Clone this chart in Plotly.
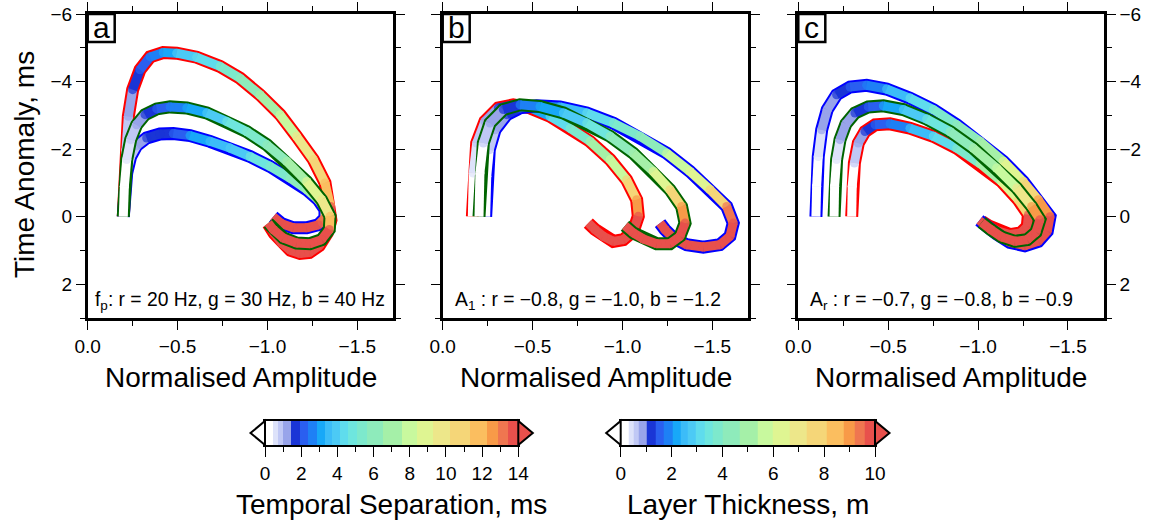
import plotly.graph_objects as go

# ---------------- data ----------------
# Panel a : peak frequency
a_red_amp = [-0.198, -0.204, -0.213, -0.226, -0.250, -0.291, -0.347, -0.420, -0.495, -0.606, -0.736, -0.847, -0.958,
             -1.070, -1.162, -1.255, -1.320, -1.351, -1.353, -1.333, -1.288, -1.233, -1.181, -1.129, -1.079, -1.038, -1.004]
a_red_time = [0.00, -1.00, -1.98, -2.97, -3.76, -4.35, -4.73, -4.86, -4.84, -4.72, -4.45, -4.10, -3.61,
              -3.02, -2.38, -1.69, -1.00, -0.30, 0.10, 0.48, 0.86, 1.06, 1.09, 1.00, 0.78, 0.50, 0.21]
a_red_thk = [0.0, 0.15, 0.45, 0.75, 1.05, 1.3, 1.6, 2.0, 2.4, 2.9, 3.4, 3.9, 4.6,
             5.4, 6.3, 7.2, 8.2, 9.2, 10.2, 10.6, 11.0, 11.4, 11.8, 12.2, 12.6, 13.0, 13.4]

a_grn_amp = [-0.198, -0.204, -0.217, -0.239, -0.272, -0.319, -0.384, -0.458, -0.551, -0.662, -0.773, -0.884,
             -0.996, -1.107, -1.218, -1.301, -1.348, -1.344, -1.301, -1.236, -1.162, -1.088, -1.032, -1.004]
a_grn_time = [0.00, -0.90, -1.69, -2.28, -2.72, -3.02, -3.19, -3.25, -3.22, -3.07, -2.82, -2.52,
              -2.13, -1.64, -1.04, -0.50, -0.01, 0.38, 0.68, 0.80, 0.78, 0.63, 0.38, 0.19]
a_grn_thk = [0.0, 0.1, 0.3, 0.5, 0.75, 1.0, 1.3, 1.6, 2.1, 2.6, 3.1, 3.6,
             4.1, 4.8, 5.6, 6.6, 7.8, 9.2, 10.2, 10.6, 11.0, 11.4, 11.8, 12.2]

a_blu_amp = [-0.198, -0.204, -0.217, -0.239, -0.272, -0.328, -0.402, -0.476, -0.569, -0.680, -0.791, -0.903,
             -1.014, -1.125, -1.218, -1.283, -1.320, -1.320, -1.283, -1.218, -1.144, -1.079, -1.032]
a_blu_time = [0.00, -0.70, -1.29, -1.78, -2.10, -2.33, -2.45, -2.46, -2.40, -2.23, -2.03, -1.78,
              -1.49, -1.14, -0.80, -0.50, -0.21, 0.04, 0.24, 0.33, 0.33, 0.21, 0.00]
a_blu_thk = [0.0, 0.1, 0.3, 0.5, 0.75, 0.95, 1.2, 1.5, 1.9, 2.3, 2.7, 3.1,
             3.5, 4.0, 4.6, 5.5, 7.0, 8.5, 10.2, 10.6, 11.0, 11.4, 11.8]

# Panel b : A1
b_red_amp = [-0.165, -0.170, -0.189, -0.235, -0.309, -0.393, -0.486, -0.597, -0.708, -0.819, -0.931, -1.023,
             -1.079, -1.088, -1.060, -1.005, -0.949, -0.893, -0.847, -0.810]
b_red_time = [0.00, -1.29, -2.18, -2.82, -3.22, -3.31, -3.22, -2.97, -2.62, -2.23, -1.69, -1.09,
              -0.50, -0.01, 0.43, 0.68, 0.73, 0.58, 0.38, 0.19]
b_red_thk = [0.0, 0.2, 0.5, 0.8, 1.1, 1.5, 2.0, 2.7, 3.4, 4.3, 5.3, 6.6,
             8.2, 9.8, 10.5, 11.0, 11.5, 12.0, 12.5, 13.0]

b_grn_amp = [-0.202, -0.207, -0.226, -0.263, -0.337, -0.430, -0.541, -0.671, -0.801, -0.931, -1.060, -1.171,
             -1.264, -1.329, -1.348, -1.320, -1.264, -1.190, -1.116, -1.060, -1.014]
b_grn_time = [0.00, -1.29, -2.18, -2.77, -3.17, -3.31, -3.26, -3.07, -2.77, -2.38, -1.88, -1.34,
              -0.80, -0.30, 0.19, 0.58, 0.80, 0.80, 0.66, 0.48, 0.27]
b_grn_thk = [0.0, 0.15, 0.45, 0.8, 1.15, 1.5, 2.0, 2.6, 3.2, 3.9, 4.7, 5.6,
             6.7, 8.0, 9.6, 10.4, 11.0, 11.5, 12.0, 12.5, 13.0]

b_blu_amp = [-0.239, -0.245, -0.259, -0.291, -0.356, -0.430, -0.523, -0.652, -0.801, -0.949, -1.097, -1.246,
             -1.375, -1.487, -1.580, -1.616, -1.598, -1.542, -1.450, -1.357, -1.283, -1.236, -1.209]
b_blu_time = [0.00, -1.19, -1.98, -2.57, -3.02, -3.22, -3.28, -3.25, -3.07, -2.77, -2.38, -1.88,
              -1.34, -0.80, -0.30, 0.19, 0.58, 0.83, 0.90, 0.83, 0.63, 0.38, 0.19]
b_blu_thk = [0.0, 0.15, 0.4, 0.7, 1.0, 1.35, 1.7, 2.2, 2.8, 3.5, 4.2, 5.0,
             6.0, 7.2, 8.5, 10.0, 10.6, 11.0, 11.5, 12.0, 12.5, 13.0, 13.5]

# Panel c : Ar
c_red_amp = [-0.297, -0.300, -0.312, -0.334, -0.371, -0.427, -0.510, -0.621, -0.751, -0.881, -1.011, -1.131,
             -1.224, -1.280, -1.274, -1.237, -1.177, -1.112, -1.057, -1.020]
c_red_time = [0.00, -0.90, -1.59, -2.18, -2.52, -2.72, -2.75, -2.62, -2.38, -2.03, -1.57, -1.04,
              -0.50, -0.06, 0.29, 0.48, 0.53, 0.43, 0.27, 0.14]
c_red_thk = [0.0, 0.15, 0.4, 0.7, 0.95, 1.2, 1.6, 2.1, 2.8, 3.5, 4.4, 5.5,
             6.8, 9.0, 10.4, 11.0, 11.5, 12.0, 12.5, 13.0]

c_grn_amp = [-0.199, -0.202, -0.213, -0.232, -0.265, -0.315, -0.389, -0.473, -0.584, -0.714, -0.844, -0.973,
             -1.103, -1.215, -1.298, -1.344, -1.322, -1.274, -1.205, -1.131, -1.070, -1.020]
c_grn_time = [0.00, -0.90, -1.69, -2.28, -2.75, -3.07, -3.25, -3.28, -3.17, -2.89, -2.52, -2.03,
              -1.44, -0.85, -0.30, 0.09, 0.46, 0.68, 0.73, 0.60, 0.38, 0.17]
c_grn_thk = [0.0, 0.15, 0.4, 0.65, 0.9, 1.1, 1.4, 1.8, 2.4, 3.0, 3.7, 4.5,
             5.4, 6.5, 7.8, 9.8, 10.5, 11.0, 11.5, 12.0, 12.5, 13.0]

c_blu_amp = [-0.098, -0.102, -0.111, -0.130, -0.161, -0.213, -0.288, -0.380, -0.491, -0.621, -0.751, -0.881,
             -1.011, -1.140, -1.251, -1.335, -1.400, -1.385, -1.335, -1.260, -1.177, -1.103, -1.048, -1.007]
c_blu_time = [0.00, -0.90, -1.78, -2.57, -3.17, -3.61, -3.84, -3.89, -3.78, -3.51, -3.17, -2.72,
              -2.23, -1.64, -1.04, -0.50, 0.00, 0.43, 0.73, 0.86, 0.76, 0.51, 0.29, 0.11]
c_blu_thk = [0.0, 0.15, 0.35, 0.6, 0.85, 1.05, 1.3, 1.6, 2.1, 2.7, 3.3, 4.0,
             4.8, 5.7, 6.7, 7.9, 9.8, 10.5, 11.0, 11.5, 12.0, 12.5, 13.0, 13.5]

panel_letters = ["a", "b", "c"]
panel_notes = ["f<sub>p</sub>: r = 20 Hz, g = 30 Hz, b = 40 Hz",
               "A<sub>1</sub> : r = \u22120.8, g = \u22121.0, b = \u22121.2",
               "A<sub>r</sub> : r = \u22120.7, g = \u22120.8, b = \u22120.9"]

# discrete colour palette (fractions of colour-bar length where each colour starts)
palette = ["#ffffff", "#dde2fa", "#c0c8f5", "#98a4ea", "#1a35d6", "#2a5ff0", "#1e80f5", "#18a8f8",
           "#3cbcf8", "#4ccaf5", "#5fdced", "#6ee6de", "#7de9cc", "#8eebbb", "#a5f0a8", "#c8f99e",
           "#dff592", "#ede78a", "#f5d678", "#fbbe5f", "#f89a48", "#ef7650", "#e8504c"]
palette_frac = [0, .033, .053, .072, .101, .138, .171, .204, .237, .263, .296, .329, .362, .401,
                .467, .539, .599, .664, .730, .809, .875, .921, .961, 1.0]
temporal_max = 14
thickness_max = 10

# ---------------- figure ----------------
W, H = 1157, 528
FONT = "Liberation Sans, Arial, Helvetica, sans-serif"


def px2x(p):
    return p / W


def py2y(p):
    return 1 - p / H


def cidx(v):
    f = v / thickness_max
    idx = 0
    for i in range(len(palette)):
        if f >= palette_frac[i]:
            idx = i
    return idx


outline_col = {"r": "#ff0000", "g": "#006400", "b": "#0000ff"}

panels = [
    ("x", "y", [("r", a_red_amp, a_red_time, a_red_thk), ("b", a_blu_amp, a_blu_time, a_blu_thk),
                ("g", a_grn_amp, a_grn_time, a_grn_thk)]),
    ("x2", "y2", [("r", b_red_amp, b_red_time, b_red_thk), ("b", b_blu_amp, b_blu_time, b_blu_thk),
                  ("g", b_grn_amp, b_grn_time, b_grn_thk)]),
    ("x3", "y3", [("r", c_red_amp, c_red_time, c_red_thk), ("b", c_blu_amp, c_blu_time, c_blu_thk),
                  ("g", c_grn_amp, c_grn_time, c_grn_thk)]),
]

fig = go.Figure()
BAND_OUT = 13
BAND_IN = 9
for xa, ya, curves in panels:
    for key, amp, tim, thk in curves:
        fig.add_trace(go.Scatter(x=amp, y=tim, mode="lines", xaxis=xa, yaxis=ya,
                                 line=dict(color=outline_col[key], width=BAND_OUT),
                                 hoverinfo="skip", showlegend=False))
        n = len(amp)
        groups = {}
        for i in range(n - 1):
            c = cidx((thk[i] + thk[i + 1]) / 2.0)
            gx, gy, gs = groups.setdefault(c, ([], [], []))
            gx += [amp[i], amp[i + 1], None]
            gy += [tim[i], tim[i + 1], None]
            gs += [0 if i == 0 else BAND_IN, 0 if i + 1 == n - 1 else BAND_IN, 0]
        for c, (gx, gy, gs) in groups.items():
            fig.add_trace(go.Scatter(x=gx, y=gy, mode="lines+markers", xaxis=xa, yaxis=ya,
                                     line=dict(color=palette[c], width=BAND_IN),
                                     marker=dict(color=palette[c], size=gs, line=dict(width=0)),
                                     hoverinfo="skip", showlegend=False))

# colour bars (heatmap cells)
nc = len(palette)
cscale = []
for i, col in enumerate(palette):
    cscale.append([i / nc, col])
    cscale.append([(i + 1) / nc, col])
for xa, ya, vmax in [("x4", "y4", temporal_max), ("x5", "y5", thickness_max)]:
    fig.add_trace(go.Heatmap(x=[f * vmax for f in palette_frac], y=[0, 1], z=[list(range(nc))],
                             colorscale=cscale, zmin=-0.5, zmax=nc - 0.5, showscale=False,
                             xaxis=xa, yaxis=ya, hoverinfo="skip"))

# ---------------- axes ----------------
panel_left = [87.7, 442.7, 798.3]
panel_w = 305.6
ytop, ybot = 14, 318
tickfont = dict(size=19, color="black", family=FONT)

layout = dict(width=W, height=H, margin=dict(l=0, r=0, t=0, b=0, autoexpand=False),
              template="none", paper_bgcolor="white", plot_bgcolor="white",
              font=dict(family=FONT, color="black"), showlegend=False)

for k in range(3):
    sfx = "" if k == 0 else str(k + 1)
    layout["xaxis" + sfx] = dict(
        domain=[px2x(panel_left[k]), px2x(panel_left[k] + panel_w)], anchor="y" + sfx,
        range=[0, -1.7], tick0=0, dtick=0.5, tickformat=".1f", automargin=False,
        ticks="outside", ticklen=9, tickwidth=1, tickcolor="black",
        showline=True, linewidth=2.5, linecolor="black", mirror="ticks",
        showgrid=False, zeroline=False, tickfont=tickfont, fixedrange=True,
        minor=dict(dtick=0.25, tick0=0, ticks="outside", ticklen=5, tickwidth=1,
                   tickcolor="black", showgrid=False))
    layout["yaxis" + sfx] = dict(
        domain=[py2y(ybot), py2y(ytop)], anchor="x" + sfx, automargin=False,
        range=[3, -6], tick0=0, dtick=2,
        ticks="outside", ticklen=9, tickwidth=1, tickcolor="black",
        showline=True, linewidth=2.5, linecolor="black", mirror="ticks",
        showgrid=False, zeroline=False, tickfont=tickfont, fixedrange=True,
        showticklabels=(k != 1), side=("right" if k == 2 else "left"),
        minor=dict(dtick=1, tick0=0, ticks="outside", ticklen=5, tickwidth=1,
                   tickcolor="black", showgrid=False))

bars = [("4", 265.0, 518.3, temporal_max), ("5", 620.7, 875.0, thickness_max)]
for sfx, x0, x1, vmax in bars:
    layout["xaxis" + sfx] = dict(
        domain=[px2x(x0), px2x(x1)], anchor="y" + sfx, range=[0, vmax], automargin=False,
        tick0=0, dtick=2, ticks="outside", ticklen=10, tickwidth=1, tickcolor="black",
        showline=True, linewidth=2, linecolor="black", mirror=True,
        showgrid=False, zeroline=False, tickfont=tickfont, fixedrange=True,
        minor=dict(dtick=1, tick0=0, ticks="outside", ticklen=5, tickwidth=1,
                   tickcolor="black", showgrid=False))
    layout["yaxis" + sfx] = dict(
        domain=[py2y(445), py2y(421)], anchor="x" + sfx, range=[0, 1], automargin=False,
        showticklabels=False, ticks="", showline=True, linewidth=2, linecolor="black",
        mirror=True, showgrid=False, zeroline=False, fixedrange=True)

fig.update_layout(**layout)

# ---------------- shapes & annotations ----------------
shapes = []
annotations = []
for k in range(3):
    sfx = "" if k == 0 else str(k + 1)
    shapes.append(dict(type="rect", xref="x" + sfx + " domain", yref="y" + sfx + " domain",
                       x0=0, x1=27 / panel_w, y0=1 - 28 / (ybot - ytop), y1=1,
                       fillcolor="white", line=dict(color="black", width=2.5), layer="above"))
    annotations.append(dict(text=panel_letters[k], xref="x" + sfx + " domain", yref="y" + sfx + " domain",
                            x=13.5 / panel_w, y=1 - 14 / (ybot - ytop), showarrow=False,
                            xanchor="center", yanchor="middle", font=dict(size=30, family=FONT)))
    annotations.append(dict(text=panel_notes[k], xref="x" + sfx + " domain", yref="y" + sfx + " domain",
                            x=[0.017, 0.034, 0.032][k], y=(ybot - 301) / (ybot - ytop), showarrow=False,
                            xanchor="left", yanchor="middle", font=dict(size=19.3, family=FONT)))
    annotations.append(dict(text="Normalised Amplitude", xref="paper", yref="paper",
                            x=px2x(panel_left[k] + panel_w / 2), y=py2y(377), showarrow=False,
                            xanchor="center", yanchor="middle", font=dict(size=28, family=FONT)))

annotations.append(dict(text="Time Anomaly, ms", xref="paper", yref="paper", x=px2x(24), y=py2y(165),
                        textangle=-90, showarrow=False, xanchor="center", yanchor="middle",
                        font=dict(size=28, family=FONT)))
annotations.append(dict(text="Temporal Separation, ms", xref="paper", yref="paper",
                        x=px2x((265 + 518.3) / 2), y=py2y(504), showarrow=False,
                        xanchor="center", yanchor="middle", font=dict(size=28, family=FONT)))
annotations.append(dict(text="Layer Thickness, m", xref="paper", yref="paper",
                        x=px2x((620.7 + 875) / 2), y=py2y(504), showarrow=False,
                        xanchor="center", yanchor="middle", font=dict(size=28, family=FONT)))

for sfx, x0, x1, vmax in bars:
    tw = 14.5 / (x1 - x0)
    shapes.append(dict(type="path", xref="x" + sfx + " domain", yref="y" + sfx + " domain",
                       path="M 0 0 L %.4f 0.5 L 0 1 Z" % (-tw), fillcolor="white",
                       line=dict(color="black", width=2), layer="above"))
    shapes.append(dict(type="path", xref="x" + sfx + " domain", yref="y" + sfx + " domain",
                       path="M 1 0 L %.4f 0.5 L 1 1 Z" % (1 + tw), fillcolor=palette[-1],
                       line=dict(color="black", width=2), layer="above"))

fig.update_layout(shapes=shapes, annotations=annotations)
fig.write_html("out.html", config={"displayModeBar": False},
               post_script="document.body.style.margin='0';document.body.style.overflow='hidden';")
